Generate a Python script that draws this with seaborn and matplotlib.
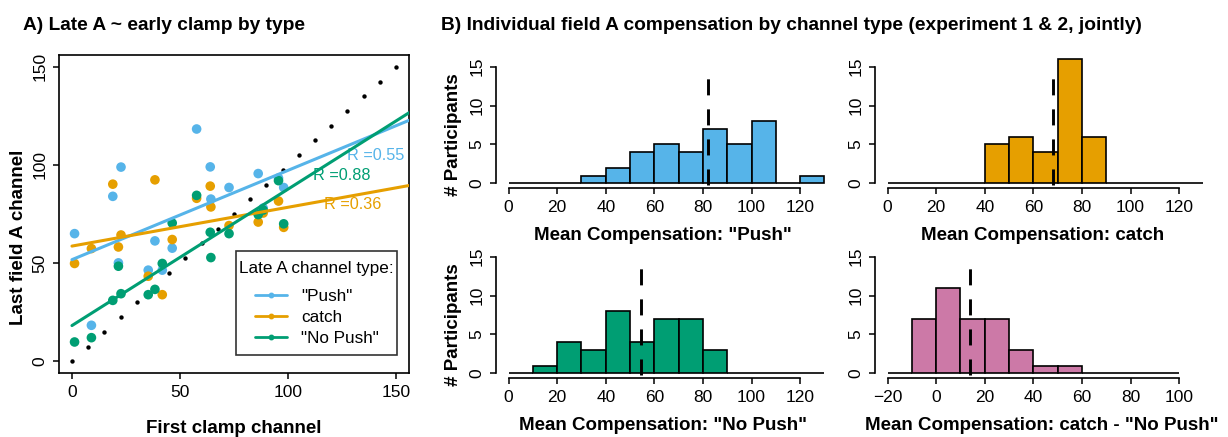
import numpy as np
import pandas as pd
import matplotlib
matplotlib.use("Agg")
import matplotlib.pyplot as plt
from matplotlib.lines import Line2D
from matplotlib.path import Path
from matplotlib.legend_handler import HandlerLine2D
import seaborn as sns

sns.set_theme(style="white")
plt.rcParams['font.family'] = ['Liberation Sans', 'DejaVu Sans']
for k in ['text.color', 'axes.labelcolor', 'xtick.color', 'ytick.color', 'axes.edgecolor']:
    plt.rcParams[k] = 'black'

# ---------------- data ----------------
first_clamp = [1.2, 9, 18.9, 22.7, 21.5, 35.3, 38.4, 41.8, 46.4, 57.7,
               64, 64.3, 72.7, 86.2, 88.5, 95.6, 98]
late_push = [65, 18.3, 84, 98.9, 50.1, 46.4, 61.3, 46.4, 57.6, 118.3,
             99, 82.6, 88.5, 95.6, 78, 93.3, 88.5]
late_catch = [49.8, 57.4, 90.2, 64.3, 58.2, 43.3, 92.4, 33.9, 62, 83,
              89.2, 78.6, 69.1, 70.9, 75.5, 81.6, 68.2]
late_nopush = [9.8, 12, 31, 34.4, 48.4, 33.9, 36.6, 49.8, 70.4, 84.5,
               65.7, 52.8, 65, 74.7, 77, 92, 70]
identity = [0, 7.5, 15, 22.5, 30, 37.5, 45, 52.5, 60, 67.5, 75, 82.5,
            90, 97.5, 105, 112.5, 120, 127.5, 135, 142.5, 150]
type_names = ['"Push"', 'catch', '"No Push"']
r_labels = ['R =0.55', 'R =0.36', 'R =0.88']

hist_titles = ['Mean Compensation: "Push"', 'Mean Compensation: catch',
               'Mean Compensation: "No Push"', 'Mean Compensation: catch - "No Push"']
edges_a = [0, 10, 20, 30, 40, 50, 60, 70, 80, 90, 100, 110, 120, 130]
edges_b = [-20, -10, 0, 10, 20, 30, 40, 50, 60, 70, 80, 90, 100]
counts_push = [0, 0, 0, 1, 2, 4, 5, 4, 7, 5, 8, 0, 1]
counts_catch = [0, 0, 0, 0, 5, 6, 4, 16, 6, 0, 0, 0, 0]
counts_nopush = [0, 1, 4, 3, 8, 4, 7, 7, 3, 0, 0, 0, 0]
counts_diff = [0, 7, 11, 7, 7, 3, 1, 1, 0, 0, 0, 0]
hist_means = [82, 68, 54.5, 14]
xticks_a = [0, 20, 40, 60, 80, 100, 120]
xticks_b = [-20, 0, 20, 40, 60, 80, 100]
yticks_h = [0, 5, 10, 15]

colors = ['#56B4E9', '#E69F00', '#009E73']
pink = '#CC79A7'

# ---------------- figure ----------------
W, H = 1228, 437
fig = plt.figure(figsize=(W / 100, H / 100), dpi=100)

def px_axes(x0, y0, x1, y1):
    return fig.add_axes([x0 / W, 1 - y1 / H, (x1 - x0) / W, (y1 - y0) / H])

FS_TICK = 12.5
FS_LEG = 12.3
FS_R = 11.7
FS_LAB = 13.5
FS_TITLE = 13.8

# ---- Panel A ----
ax = px_axes(59, 55, 409, 373)
df = pd.DataFrame({
    'x': first_clamp * 3,
    'y': late_push + late_catch + late_nopush,
    'type': [type_names[0]] * len(first_clamp) + [type_names[1]] * len(first_clamp)
            + [type_names[2]] * len(first_clamp),
})
ax.set_xlim(0, 156.5)
ax.set_ylim(-6, 156)
sns.scatterplot(x=identity, y=identity, color='black', s=10, linewidth=0, ax=ax, zorder=2)
sns.scatterplot(data=df, x='x', y='y', hue='type', palette=dict(zip(type_names, colors)),
                s=48, linewidth=0, legend=False, ax=ax, zorder=3)
for name, col in zip(type_names, colors):
    sub = df[df['type'] == name]
    sns.regplot(data=sub, x='x', y='y', scatter=False, ci=None, truncate=False,
                color=col, line_kws={'lw': 2.2, 'zorder': 4}, ax=ax)
ax.set_xlim(-6, 156)
ax.set_ylim(-6, 156)
ax.text(127.1, 104.6, r_labels[0], color=colors[0], fontsize=FS_R, va='center')
ax.text(111.7, 94.6, r_labels[2], color=colors[2], fontsize=FS_R, va='center')
ax.text(116.8, 79.7, r_labels[1], color=colors[1], fontsize=FS_R, va='center')
ax.set_xticks([0, 50, 100, 150])
ax.set_yticks([0, 50, 100, 150])
ax.set_xticklabels(['0', '50', '100', '150'], fontsize=FS_TICK)
ax.set_yticklabels(['0', '50', '100', '150'], fontsize=FS_TICK, rotation=90, va='center')
ax.tick_params(axis='both', direction='out', length=4.5, width=1.1, color='black',
               bottom=True, left=True, pad=4)
for s in ax.spines.values():
    s.set_visible(True)
    s.set_color('black')
    s.set_linewidth(1.2)
ax.set_xlabel('First clamp channel', fontsize=FS_LAB, fontweight='bold', va='center')
ax.xaxis.set_label_coords(0.5, -0.173)
ax.set_ylabel('Last field A channel', fontsize=FS_LAB, fontweight='bold', va='center')
ax.yaxis.set_label_coords(-0.117, 0.426)
handles = [Line2D([0], [0], color=c, lw=2, marker='o', markersize=3.2) for c in colors]
leg = ax.legend(handles, type_names, title='Late A channel type:', loc='lower right',
                bbox_to_anchor=(0.969, 0.0723), borderaxespad=0, fontsize=FS_LEG,
                title_fontsize=FS_LEG, frameon=True, fancybox=False, handlelength=2.82,
                handletextpad=0.8, labelspacing=0.33, borderpad=0.25,
                handler_map={Line2D: HandlerLine2D(xpad=0.94)})
leg.get_frame().set_edgecolor('black')
leg.get_frame().set_linewidth(1.2)


def tall_box(x0, y0, width, height, mutation_size):
    dx, dy = 1.0, 5.0
    xa, xb = x0 + dx, x0 + width - dx
    ya, yb = y0 - dy, y0 + height + dy
    return Path([(xa, ya), (xb, ya), (xb, yb), (xa, yb), (xa, ya)], closed=True)


leg.get_frame().set_boxstyle(tall_box)
leg._legend_box.align = 'left'
leg._legend_box.sep = 10

# ---- Panel B histograms ----
specs = [
    ((496, 54, 837, 188.3), counts_push, edges_a, colors[0], xticks_a, True),
    ((875, 54, 1216, 188.3), counts_catch, edges_a, colors[1], xticks_a, False),
    ((496, 244, 837, 378.3), counts_nopush, edges_a, colors[2], xticks_a, True),
    ((875, 244, 1216, 378.3), counts_diff, edges_b, pink, xticks_b, False),
]
for i, (box, counts, edges, col, xt, ylab) in enumerate(specs):
    hax = px_axes(*box)
    mids = [(a + b) / 2 for a, b in zip(edges[:-1], edges[1:])]
    sns.histplot(x=mids, weights=counts, bins=edges, color=col, alpha=1,
                 edgecolor='black', linewidth=1.2, ax=hax)
    m = hist_means[i]
    hax.plot([m, m], [-0.25, 15.05], color='black', lw=2.1, dashes=(5.5, 4.8),
             dash_capstyle='butt', zorder=5)
    lo = edges[0]
    hax.set_xlim(lo - 5.2, lo + 135.2)
    hax.set_ylim(-0.64, 16.64)
    hax.set_xticks(xt)
    hax.set_yticks(yticks_h)
    hax.set_xticklabels([('\u2212' + str(-v)) if v < 0 else str(v) for v in xt],
                        fontsize=FS_TICK)
    hax.set_yticklabels([str(v) for v in yticks_h], fontsize=FS_TICK, rotation=90,
                        va='center')
    hax.tick_params(axis='both', direction='out', length=4.5, width=1.1, color='black',
                    bottom=True, left=True, pad=4)
    for s in ['top', 'right']:
        hax.spines[s].set_visible(False)
    hax.spines['left'].set_bounds(0, 15)
    hax.spines['bottom'].set_bounds(xt[0], xt[-1])
    for s in ['left', 'bottom']:
        hax.spines[s].set_color('black')
        hax.spines[s].set_linewidth(1.2)
    hax.set_xlabel(hist_titles[i], fontsize=FS_LAB, fontweight='bold', va='center')
    hax.xaxis.set_label_coords(0.49, -0.35)
    if ylab:
        hax.set_ylabel('# Participants', fontsize=FS_LAB, fontweight='bold', va='center')
        hax.yaxis.set_label_coords(-0.126, 0.40)
    else:
        hax.set_ylabel('')

fig.text(23 / W, 1 - 25 / H, 'A) Late A ~ early clamp by type', fontsize=FS_TITLE,
         fontweight='bold', va='center', ha='left')
fig.text(441 / W, 1 - 25 / H,
         'B) Individual field A compensation by channel type (experiment 1 & 2, jointly)',
         fontsize=FS_TITLE, fontweight='bold', va='center', ha='left')

fig.savefig('out.png', dpi=100, facecolor='white')
